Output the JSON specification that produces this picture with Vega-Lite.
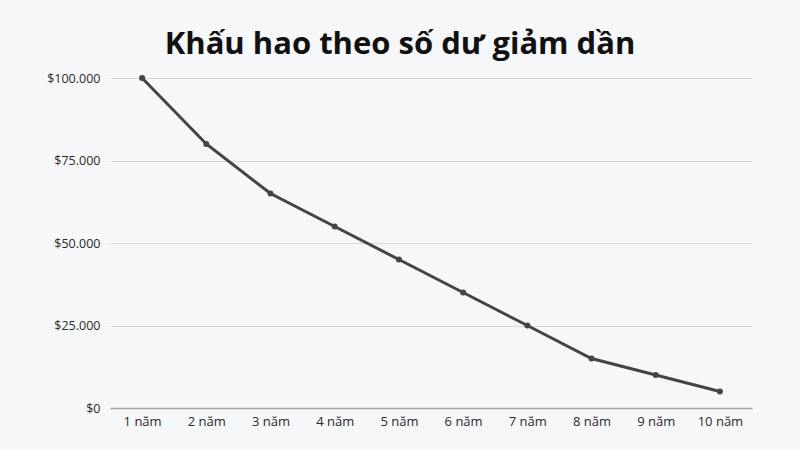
{
  "$schema": "https://vega.github.io/schema/vega-lite/v6.json",
  "autosize": "none",
  "width": 642,
  "height": 330,
  "padding": {"left": 110, "top": 78, "right": 48, "bottom": 42},
  "background": "#f6f7f9",
  "title": {
    "text": "Khấu hao theo số dư giảm dần",
    "font": "Open Sans",
    "fontSize": 31,
    "fontWeight": "bold",
    "color": "#111111",
    "anchor": "middle",
    "dx": -31,
    "offset": 11
  },
  "data": {
    "values": [
      {"nam": "1 năm", "giatri": 100000},
      {"nam": "2 năm", "giatri": 80000},
      {"nam": "3 năm", "giatri": 65000},
      {"nam": "4 năm", "giatri": 55000},
      {"nam": "5 năm", "giatri": 45000},
      {"nam": "6 năm", "giatri": 35000},
      {"nam": "7 năm", "giatri": 25000},
      {"nam": "8 năm", "giatri": 15000},
      {"nam": "9 năm", "giatri": 10000},
      {"nam": "10 năm", "giatri": 5000}
    ]
  },
  "mark": {"type": "line", "color": "#444444", "strokeWidth": 3, "point": {"filled": true, "size": 36, "color": "#444444"}},
  "encoding": {
    "x": {
      "field": "nam",
      "type": "ordinal",
      "sort": null,
      "scale": {"type": "point", "padding": 0.5},
      "axis": {"title": null, "labelAngle": 0, "domain": false, "ticks": false, "grid": false, "labelPadding": 7, "labelFontSize": 13}
    },
    "y": {
      "field": "giatri",
      "type": "quantitative",
      "scale": {"domain": [0, 100000]},
      "axis": {
        "title": null,
        "values": [0, 25000, 50000, 75000, 100000],
        "labelExpr": "'$' + replace(format(datum.value, ','), regexp(',', 'g'), '.')",
        "domain": false,
        "ticks": false,
        "labelPadding": 10,
        "labelFontSize": 12.5,
        "gridColor": {"condition": {"test": "datum.value === 0", "value": "#a0a3a8"}, "value": "#d6d9de"},
        "gridWidth": {"condition": {"test": "datum.value === 0", "value": 1.5}, "value": 1}
      }
    }
  },
  "config": {
    "view": {"stroke": null},
    "axis": {"labelFont": "Open Sans", "labelFontSize": 12, "labelColor": "#2a2a2a"}
  }
}
